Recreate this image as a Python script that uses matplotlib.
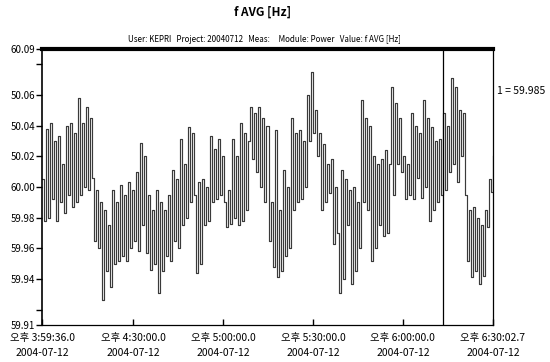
import matplotlib
matplotlib.use("Agg")
import matplotlib.pyplot as plt
import numpy as np

plt.rcParams['font.family'] = ['Noto Sans CJK KR', 'DejaVu Sans']

# --- data ---
total_minutes = 150.445  # 3:59:36.0 -> 6:30:02.7
freq = [
    # 3:59 - 4:25
    60.005, 59.978, 60.038, 59.980,
    60.042, 59.992, 60.030,
    59.978, 60.033, 59.990,
    60.015, 59.983, 60.040,
    59.995, 60.042, 59.987, 60.035,
    59.990, 60.058, 59.995, 60.042, 60.000,
    60.052, 59.998, 60.045,
    60.006, 59.965, 59.998, 59.960,
    59.990, 59.926, 59.985, 59.945, 59.975,
    59.935, 59.998, 59.950, 59.990, 59.952,
    # 4:25 - 4:49
    60.001, 59.955, 59.995, 59.952,
    60.003, 59.960, 59.998, 59.965,
    60.010, 59.958, 60.029, 59.975, 60.020, 59.957,
    59.995, 59.946, 59.985, 59.950,
    59.998, 59.931, 59.990, 59.945, 59.985,
    59.955, 59.995, 59.952,
    60.011, 59.965, 60.005, 59.960,
    60.031, 59.975, 60.015, 59.980, 60.039,
    # 4:49 - 5:15
    59.990, 60.035, 59.995,
    59.944, 60.003, 59.950,
    60.005, 59.975, 60.000, 59.978,
    60.033, 59.990, 60.025,
    59.992, 60.031, 59.995, 60.020, 59.990,
    59.974, 59.998, 59.976,
    60.031, 59.980, 60.020, 59.975,
    60.042, 59.978, 60.035, 59.985, 60.030,
    60.052, 60.018, 60.048, 60.010,
    60.052, 60.000, 60.045, 59.990,
    60.040, 59.965,
    # 5:15 - 5:41
    59.990, 59.948, 60.037,
    59.941, 59.985, 59.945,
    60.011, 59.955, 60.000, 59.960,
    60.045, 59.985, 60.035, 59.990,
    60.037, 59.992, 60.030, 60.000,
    60.060, 60.030, 60.075,
    60.035, 60.050, 60.020,
    60.035, 59.985, 60.028, 59.990,
    60.015, 59.996, 60.018,
    59.963, 60.000, 59.970,
    59.931, 60.011, 59.940, 60.005,
    # 5:41 - 6:04
    59.975, 59.998,
    59.937, 60.000, 59.945,
    59.990, 59.960,
    60.057, 59.990, 60.045,
    59.985, 60.040,
    59.952, 60.020, 59.960,
    60.015, 59.975, 60.018,
    59.968, 60.024, 59.970, 60.015,
    60.065, 59.995, 60.055,
    60.015, 60.045, 60.010,
    60.020, 59.992, 60.015, 59.995,
    60.048, 59.992, 60.040,
    # 6:04 - 6:30
    60.006, 60.035,
    59.993, 60.057, 60.000, 60.045,
    59.978, 60.039, 59.985, 60.030,
    59.990, 60.031, 59.995,
    60.048, 59.998, 60.040,
    60.010, 60.071, 60.015, 60.065,
    60.003, 60.050,
    60.020, 60.048, 59.995,
    59.952, 59.985,
    59.941, 59.987, 59.945, 59.980,
    59.937, 59.975, 59.942, 59.985,
    59.974, 60.005,
    59.997, 60.020,
]
tick_minutes = [0.0, 30.4, 60.4, 90.4, 120.4, 150.445]
tick_times = ["3:59:36.0", "4:30:00.0", "5:00:00.0", "5:30:00.0", "6:00:00.0", "6:30:02.7"]
tick_date = "2004-07-12"
ytick_vals = [60.09, 60.08, 60.06, 60.04, 60.02, 60.00, 59.98, 59.96, 59.94, 59.92, 59.91]
ytick_labels = ["60.09", "", "50.06", "50.04", "50.02", "60.00", "59.98", "59.96", "59.94", "", "59.91"]
cursor_minute = 133.8
cursor_label = "1 = 59.985"

t = np.linspace(0, total_minutes, len(freq))

fig = plt.figure(figsize=(5.5, 3.62), dpi=100)
ax = fig.add_axes([42/550, 1-325/362, 451/550, 276/362])
ax.plot(t, freq, drawstyle='steps-post', color='#3a3a3a', lw=0.85)
ax.set_xlim(0, total_minutes)
ax.set_ylim(59.91, 60.09)

ax.axhline(60.09, color='black', lw=3.0, clip_on=False)
ax.axvline(cursor_minute, color='black', lw=0.9)

ax.spines['top'].set_visible(False)
ax.spines['bottom'].set_linestyle((0, (1, 1)))
ax.spines['bottom'].set_linewidth(0.9)
ax.spines['left'].set_linewidth(1.2)
ax.spines['right'].set_linewidth(0.9)

ax.set_yticks(ytick_vals)
ax.set_yticklabels(ytick_labels)
ax.tick_params(axis='y', direction='out', length=4, width=1, labelsize=7, pad=1)
ax.set_xticks(tick_minutes)
ax.set_xticklabels([f"오후 {tt}\n{tick_date}" for tt in tick_times], linespacing=1.6)
ax.tick_params(axis='x', direction='in', length=4, width=1, labelsize=7.5, pad=6)

fig.text(263/550, 1-12/362, "f AVG [Hz]", ha='center', va='center',
         fontsize=8.5, fontweight='bold')
fig.text(264/550, 1-40/362,
         "User: KEPRI   Project: 20040712   Meas:     Module: Power   Value: f AVG [Hz]",
         ha='center', va='center', fontsize=5.8)
fig.text(497/550, 1-91/362, cursor_label, ha='left', va='center', fontsize=7.5)

fig.savefig("out.png", dpi=100, facecolor='white')
